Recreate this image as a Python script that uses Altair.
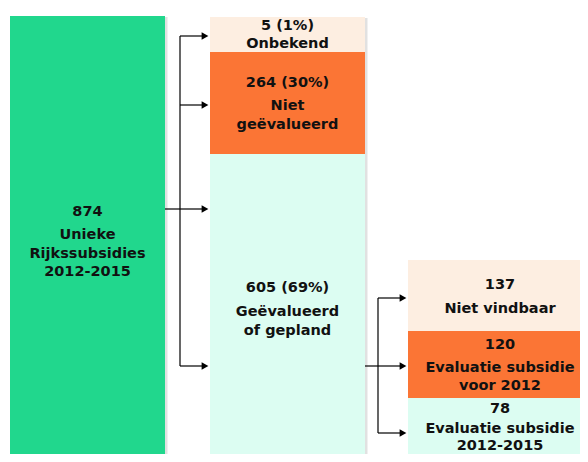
import altair as alt
import pandas as pd

# ---- data (counts & labels) ----
box_ids = ["totaal", "onbekend", "niet_geevalueerd", "geevalueerd",
           "niet_vindbaar", "eval_voor_2012", "eval_2012_2015"]
box_counts = [874, 5, 264, 605, 137, 120, 78]
box_pct = ["", "1%", "30%", "69%", "", "", ""]
box_labels = [["Unieke", "Rijkssubsidies", "2012-2015"],
              ["Onbekend"],
              ["Niet", "geëvalueerd"],
              ["Geëvalueerd", "of gepland"],
              ["Niet vindbaar"],
              ["Evaluatie subsidie", "voor 2012"],
              ["Evaluatie subsidie", "2012-2015"]]
box_colors = ["#21D78D", "#FDEEE1", "#FB7535", "#DCFDF2",
              "#FDEEE1", "#FB7535", "#DCFDF2"]

# ---- schematic layout (page pixel coordinates) ----
box_x0 = [10, 210, 210, 210, 408, 408, 408]
box_x1 = [165, 365, 365, 365, 600, 600, 600]
box_y0 = [16, 17, 52, 154, 260, 331, 398]
box_y1 = [480, 52, 154, 480, 331, 398, 480]
num_y = [212, 25.5, 83, 288, 285, 345, 409]
label_y0 = [235, 43.5, 106, 312, 309, 368, 429]
line_gap = 18.5
last_gap = [18.5, 18.5, 18.5, 18.5, 18.5, 17.5, 16.5]

boxes = pd.DataFrame({
    "id": box_ids, "x0": box_x0, "x1": box_x1, "y0": box_y0, "y1": box_y1,
    "color": box_colors,
})
boxes["sx0"] = boxes["x0"] + 2
boxes["sx1"] = boxes["x1"] + 2.5
boxes["sy0"] = boxes["y0"] + 1
boxes["sy1"] = boxes["y1"] + 1

text_rows = []
for i in range(len(box_ids)):
    cx = (box_x0[i] + min(box_x1[i], 592)) / 2
    num = str(box_counts[i]) + (f" ({box_pct[i]})" if box_pct[i] else "")
    text_rows.append({"x": cx, "y": num_y[i], "t": num})
    for j, lab in enumerate(box_labels[i]):
        text_rows.append({"x": cx, "y": label_y0[i] + j * last_gap[i], "t": lab})
texts = pd.DataFrame(text_rows)

# connectors
seg_x = [165, 180, 180, 180, 180, 180, 365, 378, 378, 378, 378]
seg_x2 = [180, 180, 202, 202, 202, 202, 378, 378, 400, 400, 400]
seg_y = [209, 36, 36, 105, 209, 366, 366, 298, 298, 366, 433]
seg_y2 = [209, 366, 36, 105, 209, 366, 366, 433, 298, 366, 433]
segs = pd.DataFrame({"x": seg_x, "x2": seg_x2, "y": seg_y, "y2": seg_y2})

arrow_x = [205, 205, 205, 205, 403, 403, 403]
arrow_y = [36, 105, 209, 366, 298, 366, 433]
arrows = pd.DataFrame({"x": arrow_x, "y": arrow_y})

W, H = 572, 446
xs = alt.Scale(domain=[8, 8 + W], range=[0, W], nice=False, zero=False)
ys = alt.Scale(domain=[8, 8 + H], range=[0, H], nice=False, zero=False)
noax = None

shadow = alt.Chart(boxes).mark_rect(color="#d9d9d9", opacity=0.8, clip=True).encode(
    x=alt.X("sx0:Q", scale=xs, axis=noax), x2="sx1",
    y=alt.Y("sy0:Q", scale=ys, axis=noax), y2="sy1")

rects = alt.Chart(boxes).mark_rect(clip=True).encode(
    x=alt.X("x0:Q", scale=xs, axis=noax), x2="x1",
    y=alt.Y("y0:Q", scale=ys, axis=noax), y2="y1",
    color=alt.Color("color:N", scale=None))

lines = alt.Chart(segs).mark_rule(color="black", strokeWidth=1.2).encode(
    x=alt.X("x:Q", scale=xs, axis=noax), x2="x2",
    y=alt.Y("y:Q", scale=ys, axis=noax), y2="y2")

heads = alt.Chart(arrows).mark_point(shape="triangle-right", filled=True,
                                     color="black", opacity=1, size=60).encode(
    x=alt.X("x:Q", scale=xs, axis=noax),
    y=alt.Y("y:Q", scale=ys, axis=noax))

labels = alt.Chart(texts).mark_text(font="DejaVu Sans", fontWeight="bold",
                                    fontSize=14.5, color="#111111",
                                    baseline="middle", align="center",
                                    clip=True).encode(
    x=alt.X("x:Q", scale=xs, axis=noax),
    y=alt.Y("y:Q", scale=ys, axis=noax),
    text="t:N")

chart = alt.layer(shadow, rects, lines, heads, labels).properties(
    width=W, height=H, padding=0, autosize=alt.AutoSizeParams(type="none")
).configure_view(stroke=None)

chart.save("out.html", embed_options={"renderer": "svg", "actions": False})
